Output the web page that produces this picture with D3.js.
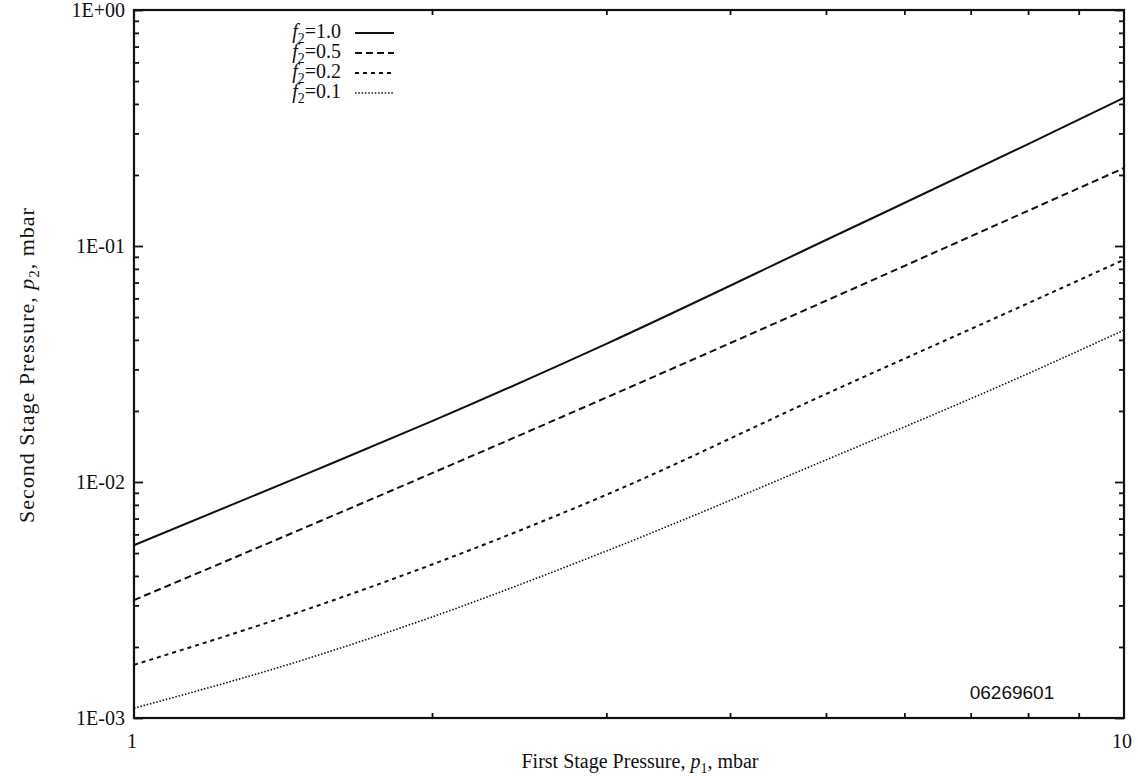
<!DOCTYPE html>
<html>
<head>
<meta charset="utf-8">
<script src="https://cdn.jsdelivr.net/npm/d3@7"></script>
<style>
  body { margin: 0; background: #fff; }
  svg text { font-family: "Liberation Serif", "DejaVu Serif", serif; fill: #111; }
</style>
</head>
<body>
<svg id="chart" width="1138" height="776"></svg>
<script>
// values
var p1 = [1, 1.5, 2, 3, 5, 8, 10];
var f10 = [0.0054, 0.0109, 0.0181, 0.0385, 0.106, 0.27, 0.425];
var f05 = [0.00316, 0.0065, 0.0109, 0.0228, 0.0586, 0.141, 0.214];
var f02 = [0.00168, 0.0029, 0.00447, 0.00883, 0.0236, 0.0572, 0.0875];
var f01 = [0.0011, 0.00179, 0.00268, 0.0051, 0.0124, 0.0288, 0.044];

var seriesNames = ["1.0", "0.5", "0.2", "0.1"];
var seriesVals = [f10, f05, f02, f01];
var yTickLabels = ["1E-03", "1E-02", "1E-01", "1E+00"];
var xTickLabels = ["1", "10"];

// line styles, same order as the series
var dashes = [null, "7,4", "4,4", "1.5,1.8"];
var widths = [2, 2, 2, 1.6];

var margin = {left: 134, right: 14, top: 10, bottom: 58};
var W = 1138, H = 776;
var svg = d3.select("#chart");

var x = d3.scaleLog().domain([1, 10]).range([margin.left, W - margin.right]);
var y = d3.scaleLog().domain([1e-3, 1]).range([H - margin.bottom, margin.top]);

var g = svg.append("g");

// minor tick values
var yMinor = [];
[1e-3, 1e-2, 1e-1].forEach(function(d) {
  for (var k = 2; k < 10; k++) yMinor.push(d * k);
});
var xMinor = [2, 3, 4, 5, 6, 7, 8, 9];

function tickStyle(sel) {
  sel.select(".domain").remove();
  sel.selectAll("line").attr("stroke", "#111").attr("stroke-width", 1.8);
  sel.selectAll("text").remove();
}

// left and right
g.append("g").attr("transform", "translate(" + margin.left + ",0)")
  .call(d3.axisRight(y).tickValues([1e-3, 1e-2, 1e-1, 1]).tickSize(9)).call(tickStyle);
g.append("g").attr("transform", "translate(" + margin.left + ",0)")
  .call(d3.axisRight(y).tickValues(yMinor).tickSize(5)).call(tickStyle);
g.append("g").attr("transform", "translate(" + (W - margin.right) + ",0)")
  .call(d3.axisLeft(y).tickValues([1e-3, 1e-2, 1e-1, 1]).tickSize(9)).call(tickStyle);
g.append("g").attr("transform", "translate(" + (W - margin.right) + ",0)")
  .call(d3.axisLeft(y).tickValues(yMinor).tickSize(5)).call(tickStyle);

// bottom and top
g.append("g").attr("transform", "translate(0," + (H - margin.bottom) + ")")
  .call(d3.axisTop(x).tickValues(xMinor).tickSize(5)).call(tickStyle);
g.append("g").attr("transform", "translate(0," + margin.top + ")")
  .call(d3.axisBottom(x).tickValues(xMinor).tickSize(5)).call(tickStyle);

// frame
g.append("rect")
  .attr("x", margin.left).attr("y", margin.top)
  .attr("width", W - margin.left - margin.right)
  .attr("height", H - margin.top - margin.bottom)
  .attr("fill", "none").attr("stroke", "#111").attr("stroke-width", 2.2);

// tick labels
g.selectAll(".ylab").data([1e-3, 1e-2, 1e-1, 1]).enter().append("text")
  .attr("x", margin.left - 9).attr("y", function(d) { return y(d) + 7; })
  .attr("text-anchor", "end").style("font-size", "20px")
  .text(function(d, i) { return yTickLabels[i]; });

g.selectAll(".xlab").data([1, 10]).enter().append("text")
  .attr("x", function(d) { return x(d) - 2; }).attr("y", H - margin.bottom + 30)
  .attr("text-anchor", "middle").style("font-size", "20px")
  .text(function(d, i) { return xTickLabels[i]; });

// axis titles
var xt = svg.append("text").attr("x", 640).attr("y", 768)
  .attr("text-anchor", "middle").style("font-size", "20px");
xt.append("tspan").text("First Stage Pressure, ");
xt.append("tspan").style("font-style", "italic").text("p");
xt.append("tspan").attr("dy", 5).style("font-size", "14px").text("1");
xt.append("tspan").attr("dy", -5).text(", mbar");

var yt = svg.append("text").attr("transform", "translate(34,365) rotate(-90)")
  .attr("text-anchor", "middle").style("font-size", "22px")
  .style("letter-spacing", "1px");
yt.append("tspan").text("Second Stage Pressure, ");
yt.append("tspan").style("font-style", "italic").text("p");
yt.append("tspan").attr("dy", 5).style("font-size", "15px").text("2");
yt.append("tspan").attr("dy", -5).text(", mbar");

// curves
var line = d3.line()
  .x(function(d) { return x(d[0]); })
  .y(function(d) { return y(d[1]); })
  .curve(d3.curveMonotoneX);

seriesVals.forEach(function(vals, i) {
  g.append("path")
    .datum(p1.map(function(p, j) { return [p, vals[j]]; }))
    .attr("d", line)
    .attr("fill", "none")
    .attr("stroke", "#111")
    .attr("stroke-width", widths[i])
    .attr("stroke-dasharray", dashes[i]);
});

// legend
var leg = g.append("g");
seriesNames.forEach(function(name, i) {
  var ly = 38 + i * 20;
  var t = leg.append("text").attr("x", 341).attr("y", ly)
    .attr("text-anchor", "end").style("font-size", "20px");
  t.append("tspan").style("font-style", "italic").text("f");
  t.append("tspan").attr("dy", 5).style("font-size", "14px").text("2");
  t.append("tspan").attr("dy", -5).text("=" + name);
  leg.append("line")
    .attr("x1", 355).attr("x2", 394)
    .attr("y1", ly - 5).attr("y2", ly - 5)
    .attr("stroke", "#111")
    .attr("stroke-width", widths[i])
    .attr("stroke-dasharray", dashes[i]);
});

// figure id
g.append("text").attr("x", 1012).attr("y", 699)
  .attr("text-anchor", "middle").style("font-size", "19px")
  .style("font-family", "'Liberation Sans', Arial, sans-serif")
  .text("06269601");
</script>
</body>
</html>
